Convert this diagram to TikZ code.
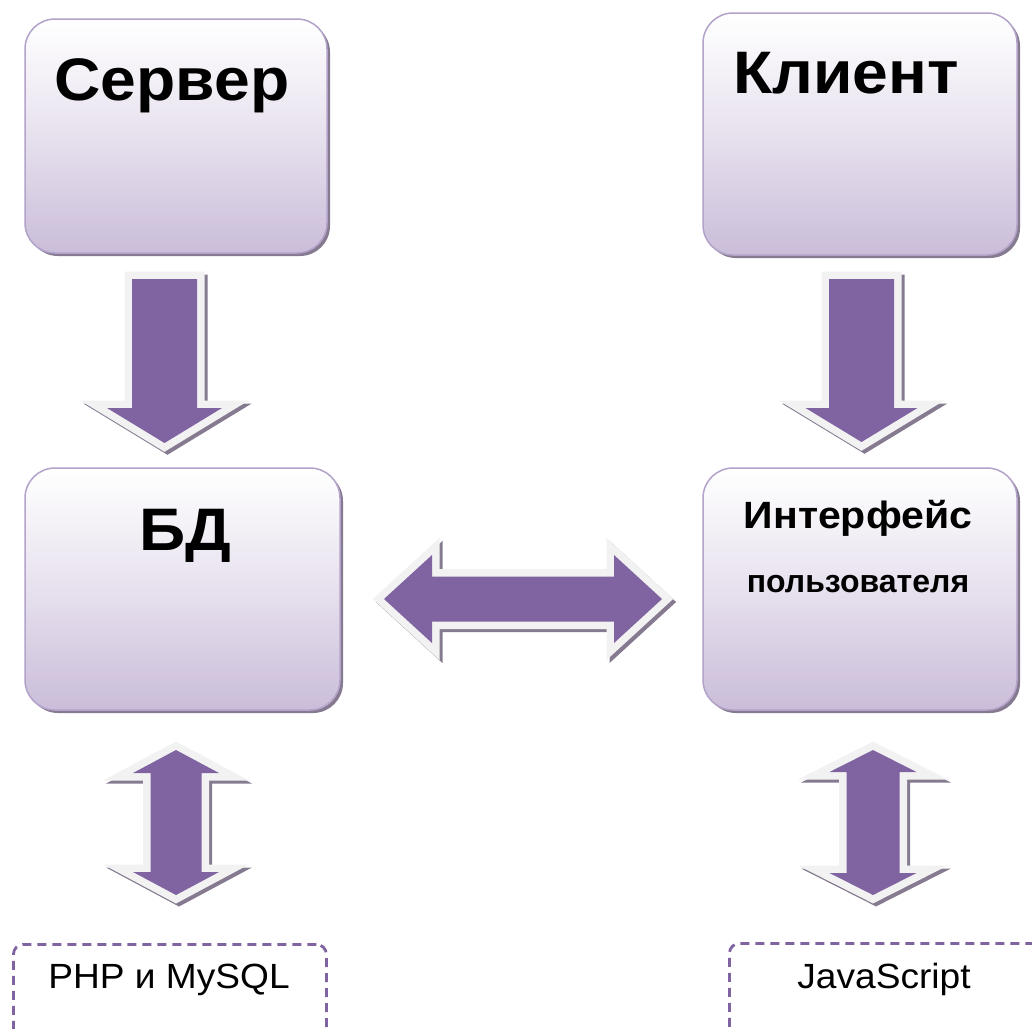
\documentclass[tikz,border=0pt]{standalone}
\usepackage{fontspec}
\setmainfont{Liberation Sans}
\usetikzlibrary{calc,shadows}

\definecolor{arrowc}{HTML}{8064A2}
\definecolor{rimc}{HTML}{F2F2F2}
\definecolor{shadowc}{HTML}{857A90}
\definecolor{boxline}{HTML}{B3A2C9}
\definecolor{boxmid}{HTML}{E7E1EE}
\definecolor{boxbot}{HTML}{CABDD9}

\tikzset{
  box/.style={rectangle, rounded corners=30pt, draw=boxline, line width=1.5pt,
    top color=white, bottom color=boxbot, middle color=boxmid, inner sep=0pt,
    drop shadow={shadow xshift=3pt, shadow yshift=-3pt, fill=shadowc, opacity=1}},
  dashbox/.style={rectangle, rounded corners=10pt, draw=arrowc, line width=2.8pt,
    dash pattern=on 9pt off 6pt, inner sep=0pt},
  bigtxt/.style={inner sep=0pt, anchor=base, xscale=1.07,
    font=\fontsize{60}{72}\selectfont\bfseries},
  midtxt/.style={inner sep=0pt, anchor=base, xscale=1.08,
    font=\fontsize{38}{45}\selectfont\bfseries},
  smalltxt/.style={inner sep=0pt, anchor=base, xscale=1.0,
    font=\fontsize{32}{38}\selectfont\bfseries},
  plaintxt/.style={inner sep=0pt, anchor=base, xscale=1.06,
    font=\fontsize{35}{42}\selectfont},
  fatshadow/.style={fill=shadowc, draw=shadowc, line width=15pt, line join=miter,
    transform canvas={shift={(3,3)}}},
  fatrim/.style={fill=rimc, draw=rimc, line width=15pt, line join=miter},
  fatbody/.style={fill=arrowc}
}

% block arrow from tail #1 to tip #2; half shaft #3, half head #4, head length #5
\newcommand\fatsingle[5]{%
  \coordinate (hb) at ($(#2)!#5!(#1)$);
  \coordinate (f1) at ($(#1)!#3!90:(#2)$);
  \coordinate (f2) at ($(hb)!#3!-90:(#1)$);
  \coordinate (f3) at ($(hb)!#4!-90:(#1)$);
  \coordinate (f4) at ($(hb)!#4!90:(#1)$);
  \coordinate (f5) at ($(hb)!#3!90:(#1)$);
  \coordinate (f6) at ($(#1)!#3!-90:(#2)$);
  \foreach \layer in {fatshadow,fatrim,fatbody}{%
    \path[style=\layer] (f1) -- (f2) -- (f3) -- (#2) -- (f4) -- (f5) -- (f6) -- cycle;}
}

% double-headed block arrow between tips #1 and #2
\newcommand\fatdouble[5]{%
  \coordinate (hba) at ($(#1)!#5!(#2)$);
  \coordinate (hbb) at ($(#2)!#5!(#1)$);
  \coordinate (d1) at ($(hba)!#4!90:(#2)$);
  \coordinate (d2) at ($(hba)!#3!90:(#2)$);
  \coordinate (d3) at ($(hbb)!#3!-90:(#1)$);
  \coordinate (d4) at ($(hbb)!#4!-90:(#1)$);
  \coordinate (d5) at ($(hbb)!#4!90:(#1)$);
  \coordinate (d6) at ($(hbb)!#3!90:(#1)$);
  \coordinate (d7) at ($(hba)!#3!-90:(#2)$);
  \coordinate (d8) at ($(hba)!#4!-90:(#2)$);
  \foreach \layer in {fatshadow,fatrim,fatbody}{%
    \path[style=\layer] (#1) -- (d1) -- (d2) -- (d3) -- (d4) -- (#2) -- (d5) -- (d6) -- (d7) -- (d8) -- cycle;}
}

\begin{document}
\begin{tikzpicture}[x=1pt, y=-1pt]
  \path[use as bounding box, clip] (0,0) rectangle (1032,1028);
  \fill[white] (0,0) rectangle (1032,1028);

  % main blocks
  \node[box, minimum width=302pt, minimum height=234pt] (server) at (176,136) {};
  \node[box, minimum width=314pt, minimum height=242pt] (client) at (860,134) {};
  \node[box, minimum width=315pt, minimum height=242pt] (db) at (182.5,589) {};
  \node[box, minimum width=314pt, minimum height=242pt] (ui) at (860,589) {};

  \node[bigtxt] (serverlbl) at (172,100) {Сервер};
  \node[bigtxt] (clientlbl) at (846,93) {Клиент};
  \node[bigtxt] (dblbl) at (185,550) {БД};
  \node[midtxt] (uilbl) at (858,528) {Интерфейс};
  \node[smalltxt] (uisub) at (858,592) {пользователя};

  % technology boxes
  \node[dashbox, anchor=north west, minimum width=313pt, minimum height=130pt] (php) at (12,943) {};
  \node[dashbox, anchor=north west, minimum width=330pt, minimum height=130pt] (js) at (728,942) {};
  \node[plaintxt] (phplbl) at (169,988) {PHP и MySQL};
  \node[plaintxt] (jslbl) at (884,988) {JavaScript};

  % arrow ends
  \coordinate (srvA) at (164.5,279);
  \coordinate (srvB) at (164.5,443);
  \coordinate (cliA) at (861.5,279);
  \coordinate (cliB) at (861.5,442);
  \coordinate (midA) at (384,599);
  \coordinate (midB) at (662,599);
  \coordinate (dbA) at (176,750);
  \coordinate (dbB) at (176,895);
  \coordinate (uiA) at (873,750);
  \coordinate (uiB) at (873,895);

  \fatsingle{srvA}{srvB}{32.5pt}{57.5pt}{35pt}
  \fatsingle{cliA}{cliB}{32.5pt}{56pt}{34pt}
  \fatdouble{midA}{midB}{22.5pt}{44pt}{48pt}
  \fatdouble{dbA}{dbB}{25.5pt}{43pt}{23pt}
  \fatdouble{uiA}{uiB}{26.5pt}{43.5pt}{22pt}
\end{tikzpicture}
\end{document}
